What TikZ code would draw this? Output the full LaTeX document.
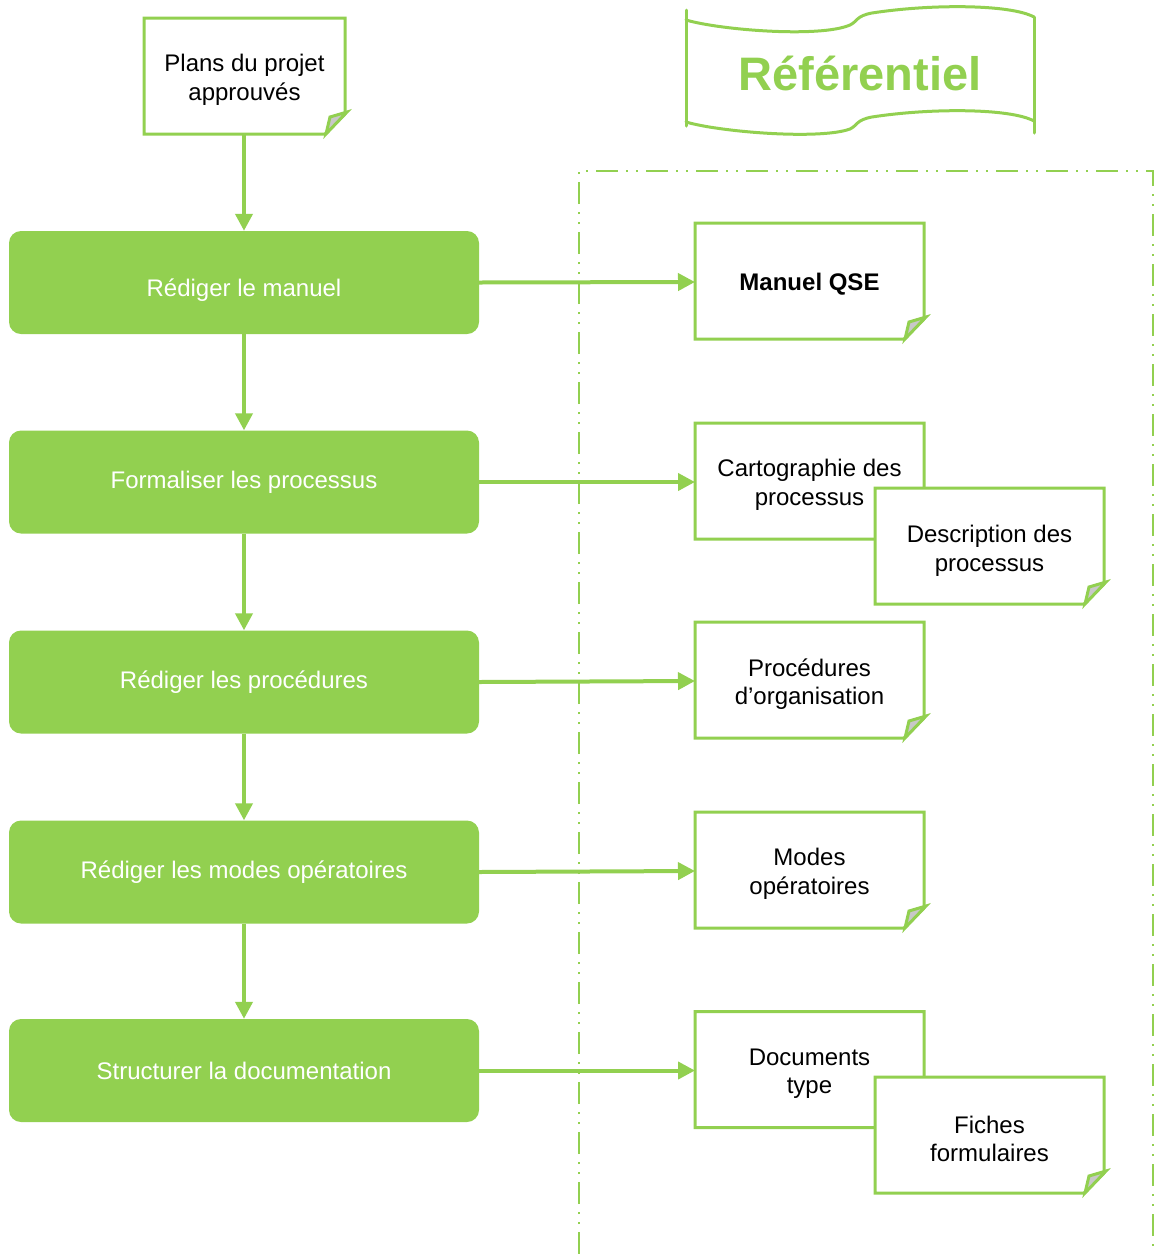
\documentclass[tikz,border=0pt]{standalone}
\usepackage{fontspec}
\setmainfont{Liberation Sans}
\usetikzlibrary{arrows.meta}
\definecolor{qgreen}{HTML}{92D050}
\definecolor{foldgray}{HTML}{C8C8C8}
\tikzset{
  gbox/.style={fill=qgreen, rounded corners=12pt, minimum width=470pt, minimum height=103pt,
    text=white, font=\fontsize{24}{29}\selectfont, align=center, inner sep=0pt},
  dtext/.style={align=center, font=\fontsize{24}{28.5}\selectfont, inner sep=0pt},
  docline/.style={draw=qgreen, line width=3pt, line join=miter},
  flow/.style={draw=qgreen, line width=4pt, -{Triangle[width=17pt,length=17pt]}},
  frameline/.style={draw=qgreen, line width=2pt, dash pattern=on 22pt off 8pt on 2pt off 8pt on 2pt off 8pt},
  bannerline/.style={draw=qgreen, line width=3pt, line cap=round},
}
\newcommand{\docshape}[4]{%
  \begin{scope}[shift={(#1,#2)}]
    \draw[docline, fill=white] (-#3,-#4) -- (#3,-#4) -- (#3,#4-20) -- (#3-20,#4) -- (-#3,#4) -- cycle;
    \draw[docline, fill=foldgray] (#3+2,#4-22) -- (#3-15,#4-17) -- (#3-19,#4) -- cycle;
  \end{scope}}
\begin{document}
\begin{tikzpicture}[x=1pt,y=-1pt]
\useasboundingbox (0,0) rectangle (1155,1254);
% frame
\draw[frameline] (579,1254) -- (579,171) -- (1153,171) -- (1153,1254);
% banner
\draw[bannerline] (686,10) -- (686,126);
\draw[bannerline] (1034,17) -- (1034,133);
\draw[bannerline] (686,20) .. controls (720,30) and (820,38) .. (850,25) .. controls (858,21) and (856,16) .. (872,13) .. controls (930,4) and (1010,4) .. (1034,17);
\draw[bannerline] (686,122) .. controls (720,132) and (820,140) .. (850,129) .. controls (858,125) and (856,120) .. (872,117) .. controls (930,108) and (1010,108) .. (1034,121);
\node[inner sep=0pt, text=qgreen, font=\fontsize{47}{50}\selectfont\bfseries] (ref) at (860,73) {Référentiel};
% left flow
\docshape{244.5}{76}{100.5}{58}
\node[dtext] (plans) at (244.5,80) {Plans du projet\\approuvés};
\node[gbox, text height=28pt, text depth=0pt] (g1) at (244,282.5) {Rédiger le manuel};
\node[gbox] (g2) at (244,482) {Formaliser les processus};
\node[gbox] (g3) at (244,682) {Rédiger les procédures};
\node[gbox] (g4) at (244,872) {Rédiger les modes opératoires};
\node[gbox] (g5) at (244,1070.5) {Structurer la documentation};
% documents
\docshape{809.5}{281}{114.5}{58}
\node[dtext, font=\fontsize{24}{29}\selectfont\bfseries] (manuel) at (809.5,284) {Manuel QSE};
\docshape{809.5}{481}{114.5}{58}
\node[dtext] (carto) at (809.5,485) {Cartographie des\\processus};
\docshape{989.5}{546}{114.5}{58}
\node[dtext] (desc) at (989.5,551) {Description des\\processus};
\docshape{809.5}{680}{114.5}{58}
\node[dtext] (proc) at (809.5,684) {Procédures\\d’organisation};
\docshape{809.5}{870}{114.5}{58}
\node[dtext] (modes) at (809.5,874) {Modes\\opératoires};
\docshape{809.5}{1069.5}{114.5}{58}
\node[dtext] (docs) at (809.5,1073.5) {Documents\\type};
\docshape{989.5}{1135}{114.5}{58}
\node[dtext] (fiches) at (989.5,1139) {Fiches\\formulaires};
% vertical arrows
\coordinate (pb) at (244,134);
\draw[flow] (pb) -- (g1.north -| pb);
\draw[flow] (g1.south) -- (g2.north);
\draw[flow] (g2.south) -- (g3.north);
\draw[flow] (g3.south) -- (g4.north);
\draw[flow] (g4.south) -- (g5.north);
% horizontal arrows
\draw[flow] (g1.east) -- (695,282);
\draw[flow] (g2.east) -- (695,482);
\draw[flow] (g3.east) -- (695,681);
\draw[flow] (g4.east) -- (695,871);
\draw[flow] (g5.east) -- (695,1070.5);
\end{tikzpicture}
\end{document}
